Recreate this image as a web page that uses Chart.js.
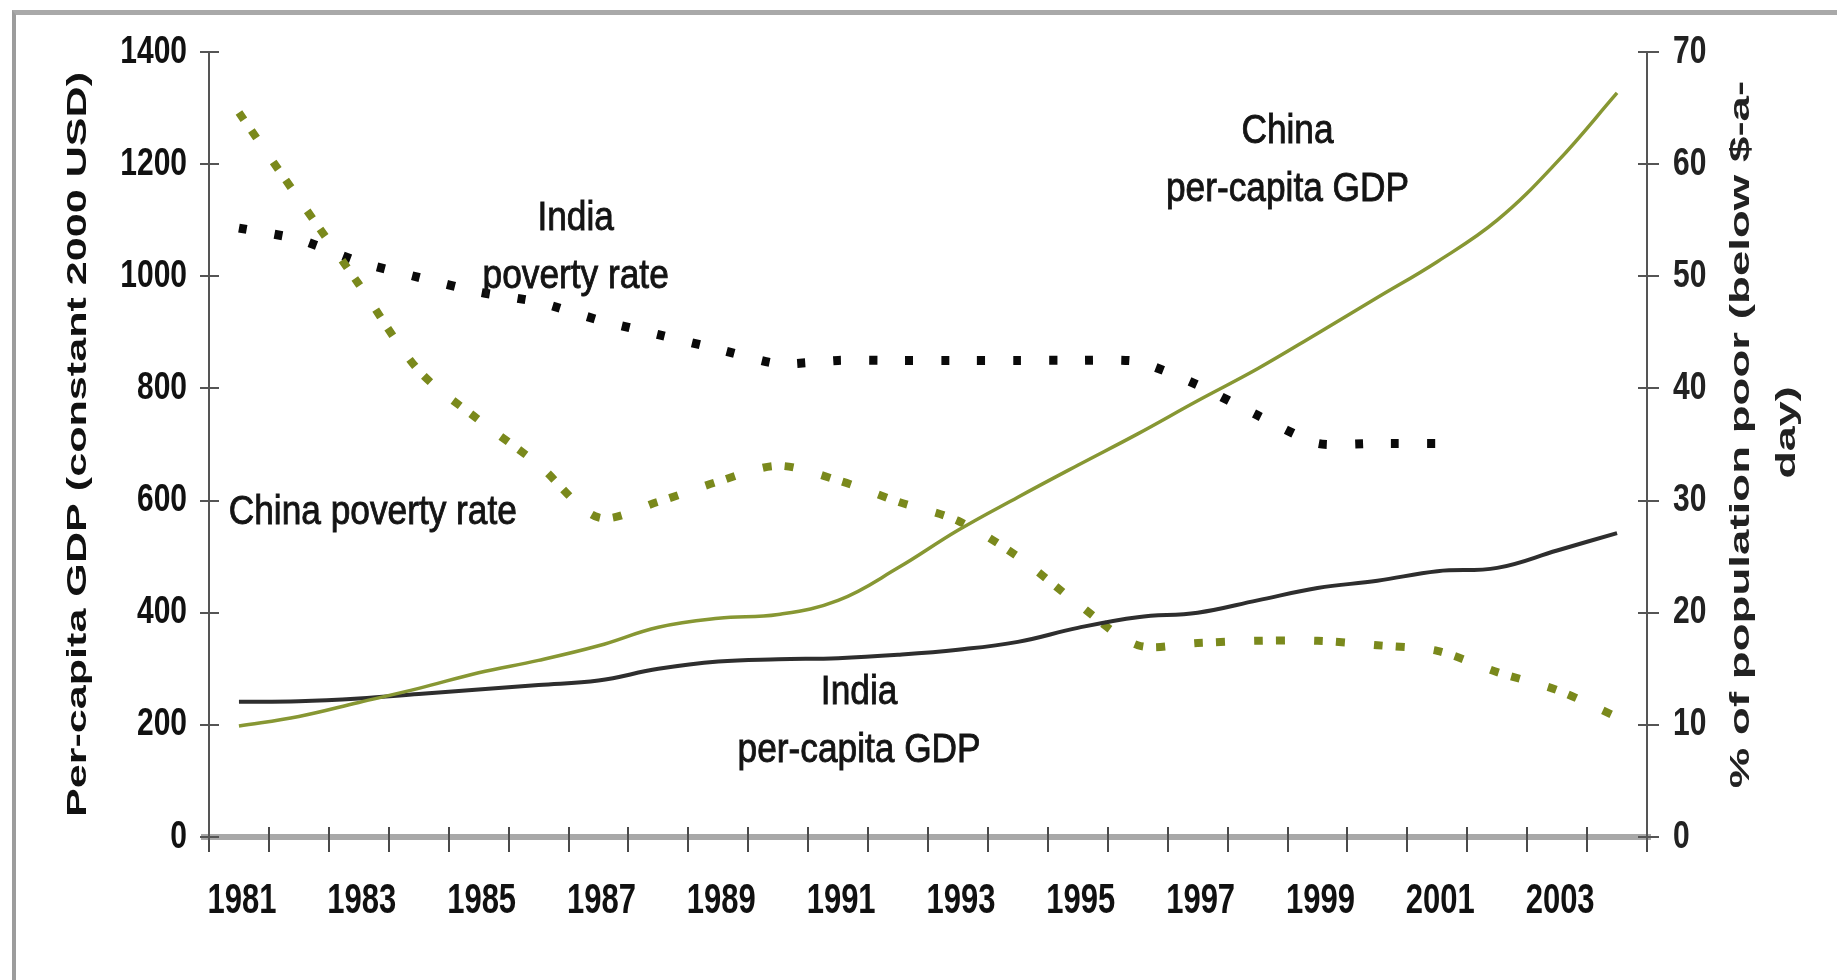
<!DOCTYPE html>
<html>
<head>
<meta charset="utf-8">
<title>India and China: per-capita GDP and poverty rate</title>
<script src="https://cdn.jsdelivr.net/npm/chart.js@4.4.1/dist/chart.umd.min.js"></script>
<style>
  html, body { margin: 0; padding: 0; background: #fff; }
  #wrap { position: relative; width: 1837px; height: 980px; overflow: hidden; }
  #frame { position: absolute; left: 12px; top: 10px; right: -10px; bottom: -10px;
           border-top: 5px solid #a9a9a9; border-left: 4px solid #9c9c9c; }
  canvas { position: absolute; left: 0; top: 0; }
</style>
</head>
<body>
<div id="wrap">
  <div id="frame"></div>
  <canvas id="chart" width="1837" height="980"></canvas>
</div>
<script>
// --- data ---
const years = ['1981', '1982', '1983', '1984', '1985', '1986', '1987', '1988', '1989', '1990', '1991', '1992',
               '1993', '1994', '1995', '1996', '1997', '1998', '1999', '2000', '2001', '2002', '2003', '2004'];
const gdpTicks = [0, 200, 400, 600, 800, 1000, 1200, 1400];
const povertyTicks = [0, 10, 20, 30, 40, 50, 60, 70];

// per-capita GDP, constant 2000 USD (left axis)
const chinaGdp = [198, 215, 240, 265, 293, 315, 341, 374, 390, 397, 422, 480,
                  547, 606, 663, 719, 778, 835, 898, 962, 1026, 1100, 1204, 1327];
const indiaGdp = [241, 242, 247, 255, 263, 271, 279, 300, 313, 317, 319, 325,
                  334, 348, 373, 392, 400, 422, 444, 457, 474, 480, 511, 542];

// % of population poor (right axis)
const chinaPoverty = [64.6, 56.9, 49.3, 41.6, 37.2, 33.2, 28.5, 29.9, 31.7, 33.1, 31.8, 29.9,
                      28.2, 25.0, 20.8, 17.1, 17.3, 17.5, 17.5, 17.1, 16.6, 14.7, 13.1, 10.7];
const indiaPoverty = [54.3, 53.3, 51.3, 49.9, 48.6, 47.7, 46.1, 44.8, 43.5, 42.2, 42.5, 42.5,
                      42.5, 42.5, 42.5, 42.4, 40.3, 37.6, 35.1, 35.1, 35.1, null, null, null];

const leftTitle = 'Per-capita GDP (constant 2000 USD)';
const rightTitle = ['% of population poor (below $-a-', 'day)'];
const notes = [
  { lines: ['India', 'poverty rate'], at: [5.62, 1082], align: 'center' },
  { lines: ['China', 'per-capita GDP'], at: [17.5, 1237], align: 'center' },
  { lines: ['China poverty rate'], at: [-0.17, 559], align: 'left' },
  { lines: ['India', 'per-capita GDP'], at: [10.35, 238], align: 'center' },
];

const FONT = '"Liberation Sans", Arial, sans-serif';

// text squeezed/stretched like the original picture
function drawText(ctx, text, x, y, o) {
  ctx.save();
  ctx.translate(x, y);
  if (o.rotate) ctx.rotate(o.rotate);
  ctx.scale(o.sx || 1, o.sy || 1);
  ctx.font = o.font;
  ctx.fillStyle = o.color || '#000';
  ctx.textAlign = o.align || 'center';
  ctx.textBaseline = o.baseline || 'alphabetic';
  ctx.fillText(text, 0, 0);
  if (o.thicken) {
    ctx.strokeStyle = o.color || '#000';
    ctx.lineWidth = o.thicken;
    ctx.strokeText(text, 0, 0);
  }
  ctx.restore();
}

function seg(ctx, x1, y1, x2, y2) {
  ctx.beginPath();
  ctx.moveTo(x1, y1);
  ctx.lineTo(x2, y2);
  ctx.stroke();
}

const axesPlugin = {
  id: 'axesPlugin',
  beforeDatasetsDraw(chart) {
    const { ctx, chartArea: a, scales: { x, y, y2 } } = chart;
    ctx.save();
    // thick grey category axis
    ctx.strokeStyle = '#a8a8a8';
    ctx.lineWidth = 6;
    seg(ctx, a.left - 8, a.bottom, a.right + 4, a.bottom);
    // tick marks between years
    ctx.strokeStyle = '#4a4a4a';
    ctx.lineWidth = 2;
    for (let i = 0; i <= years.length; i++) {
      const px = Math.round(x.getPixelForValue(i - 0.5));
      seg(ctx, px, a.bottom - 10, px, a.bottom + 15);
    }
    // value axes
    ctx.strokeStyle = '#555';
    seg(ctx, a.left, a.top, a.left, a.bottom + 3);
    seg(ctx, a.right, a.top, a.right, a.bottom + 3);
    gdpTicks.forEach(v => {
      const py = Math.round(y.getPixelForValue(v));
      seg(ctx, a.left - 9, py, a.left + 10, py);
    });
    povertyTicks.forEach(v => {
      const py = Math.round(y2.getPixelForValue(v));
      seg(ctx, a.right - 9, py, a.right + 12, py);
    });
    ctx.restore();
  },
  afterDatasetsDraw(chart) {
    const { ctx, chartArea: a, scales: { x, y, y2 } } = chart;
    const tickFont = 'bold 30px ' + FONT;
    gdpTicks.forEach(v => drawText(ctx, String(v), a.left - 22, y.getPixelForValue(v),
      { font: tickFont, sy: 1.28, align: 'right', baseline: 'middle', color: '#111' }));
    povertyTicks.forEach(v => drawText(ctx, String(v), a.right + 26, y2.getPixelForValue(v),
      { font: tickFont, sy: 1.28, align: 'left', baseline: 'middle', color: '#222' }));
    years.forEach((yr, i) => {
      if (i % 2) return;
      drawText(ctx, yr, x.getPixelForValue(i) + 3, a.bottom + 64,
        { font: 'bold 31px ' + FONT, sy: 1.36, baseline: 'middle', color: '#111' });
    });

    // axis titles, read bottom to top
    const midY = (a.top + a.bottom) / 2;
    const titleFont = 'bold 28px ' + FONT;
    drawText(ctx, leftTitle, 78, midY,
      { font: titleFont, rotate: -Math.PI / 2, sx: 1.54, baseline: 'middle', color: '#111' });
    drawText(ctx, rightTitle[0], a.right + 94, midY - 10,
      { font: titleFont, rotate: -Math.PI / 2, sx: 1.63, baseline: 'middle', color: '#222' });
    drawText(ctx, rightTitle[1], a.right + 140, midY - 12,
      { font: titleFont, rotate: -Math.PI / 2, sx: 1.6, baseline: 'middle', color: '#222' });

    // series labels inside the plot
    notes.forEach(n => {
      const px = x.getPixelForValue(n.at[0]);
      const py = y.getPixelForValue(n.at[1]);
      n.lines.forEach((t, k) => drawText(ctx, t, px, py + k * 58,
        { font: '41px ' + FONT, sx: 0.86, align: n.align, color: '#141414', thicken: 0.9 }));
    });
  }
};

new Chart(document.getElementById('chart'), {
  type: 'line',
  data: {
    labels: years,
    datasets: [
      {
        label: 'China per-capita GDP',
        data: chinaGdp,
        yAxisID: 'y',
        borderColor: '#879733',
        borderWidth: 3.5,
        tension: 0.4,
        pointRadius: 0,
      },
      {
        label: 'India per-capita GDP',
        data: indiaGdp,
        yAxisID: 'y',
        borderColor: '#2e2e2e',
        borderWidth: 4,
        tension: 0.4,
        pointRadius: 0,
      },
      {
        label: 'China poverty rate',
        data: chinaPoverty,
        yAxisID: 'y2',
        borderColor: '#7a891c',
        borderWidth: 8,
        borderDash: [9, 13, 9, 29],
        borderCapStyle: 'butt',
        tension: 0.3,
        pointRadius: 0,
      },
      {
        label: 'India poverty rate',
        data: indiaPoverty,
        yAxisID: 'y2',
        borderColor: '#0a0a0a',
        borderWidth: 9,
        borderDash: [8, 28],
        borderCapStyle: 'butt',
        tension: 0.2,
        pointRadius: 0,
        spanGaps: false,
      },
    ],
  },
  options: {
    responsive: false,
    animation: false,
    layout: { padding: { left: 209, right: 190, top: 52, bottom: 143 } },
    plugins: {
      legend: { display: false },
      tooltip: { enabled: false },
    },
    scales: {
      x: { type: 'category', offset: true, display: false },
      y: { min: 0, max: 1400, display: false },
      y2: { min: 0, max: 70, position: 'right', display: false },
    },
  },
  plugins: [axesPlugin],
});
</script>
</body>
</html>
